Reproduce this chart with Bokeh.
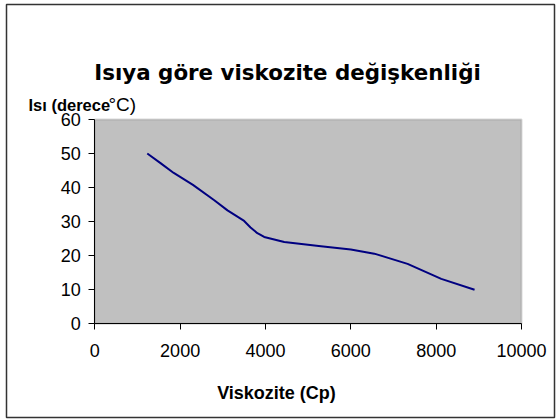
from bokeh.plotting import figure
from bokeh.models import Label, Range1d, FixedTicker, LinearAxis, BoxAnnotation
from bokeh.embed import file_html
from bokeh.resources import INLINE

# data (viscosity in Cp, temperature in °C)
viskozite = [1230, 1540, 1850, 2300, 2800, 3110, 3500, 3650, 3810, 3970,
             4440, 5300, 6000, 6550, 7330, 8120, 8900]
isi = [50.0, 47.2, 44.3, 40.8, 36.3, 33.3, 30.2, 28.3, 26.6, 25.5,
       24.0, 22.8, 21.8, 20.6, 17.6, 13.2, 10.0]
x_ticks = [0, 2000, 4000, 6000, 8000, 10000]
y_ticks = [0, 10, 20, 30, 40, 50, 60]
x_lim = (0, 10000)
y_lim = (0, 60)

title_text = "Isıya göre viskozite değişkenliği"
y_title_bold = "Isı (derece"
y_title_plain = "°C)"
x_title = "Viskozite (Cp)"

# ---- layout (page pixels) ----
ML, MT = 5, 3                 # figure offset on the page
W, H = 551, 416               # figure size
FL, FT, FR, FB = 6, 4, 554, 417     # chart-area frame (outer border) on page
PL, PT, PR, PB = 94.3, 119.0, 521.0, 323.3   # plot area on page

sx = (x_lim[1] - x_lim[0]) / (PR - PL)
sy = (y_lim[1] - y_lim[0]) / (PB - PT)
x_range = Range1d(x_lim[0] - (PL - FL) * sx, x_lim[1] + (FR - PR) * sx)
y_range = Range1d(y_lim[0] - (FB - PB) * sy, y_lim[1] + (PT - FT) * sy)

p = figure(width=W, height=H, output_backend="svg", toolbar_location=None,
           title=None, x_range=x_range, y_range=y_range,
           x_axis_location=None, y_axis_location=None,
           min_border_left=FL - ML, min_border_top=FT - MT,
           min_border_right=(ML + W) - FR, min_border_bottom=(MT + H) - FB)
p.styles = {"margin-left": f"{ML}px", "margin-top": f"{MT}px"}

p.background_fill_color = "white"
p.border_fill_color = "white"
p.outline_line_color = "#333333"
p.outline_line_width = 1.5
p.grid.visible = False

# plot area
p.add_layout(BoxAnnotation(left=x_lim[0], right=x_lim[1], bottom=y_lim[0], top=y_lim[1],
                           fill_color="#C0C0C0", fill_alpha=1.0,
                           line_color="#808080", line_width=2, level="underlay"))

p.line(viskozite, isi, line_color="#000080", line_width=2)

xaxis = LinearAxis(fixed_location=y_lim[0], bounds=x_lim,
                   ticker=FixedTicker(ticks=x_ticks))
yaxis = LinearAxis(fixed_location=x_lim[0], bounds=y_lim,
                   ticker=FixedTicker(ticks=y_ticks))
for ax in (xaxis, yaxis):
    ax.axis_line_color = "black"
    ax.axis_line_width = 1
    ax.major_tick_out = 6
    ax.major_tick_in = 0
    ax.minor_tick_out = 0
    ax.minor_tick_in = 0
    ax.major_tick_line_color = "black"
    ax.major_label_text_font = "Liberation Sans"
    ax.major_label_text_font_size = "18px"
    ax.major_label_text_color = "black"
xaxis.major_label_standoff = 14
yaxis.major_label_standoff = 8
p.add_layout(xaxis, "below")
p.add_layout(yaxis, "left")

def lab(text, px, py, size, bold, font="Liberation Sans", align="left"):
    # px, py: page pixel position of the text anchor (baseline)
    return Label(x=x_range.start + (px - FL) * sx, y=y_range.end - (py - FT) * sy,
                 text=text, text_font=font, text_font_size=size,
                 text_font_style="bold" if bold else "normal",
                 text_align=align, text_baseline="alphabetic", text_color="black")

p.add_layout(lab(title_text, 287, 72, "21.4px", True, "DejaVu Sans", "center"))
p.add_layout(lab(y_title_bold, 28, 104, "16.5px", True))
p.add_layout(lab(y_title_plain, 108, 104, "19px", False))
p.add_layout(lab(x_title, 276, 392, "18px", True, align="center"))

open("out.html", "w").write(file_html(p, INLINE))
